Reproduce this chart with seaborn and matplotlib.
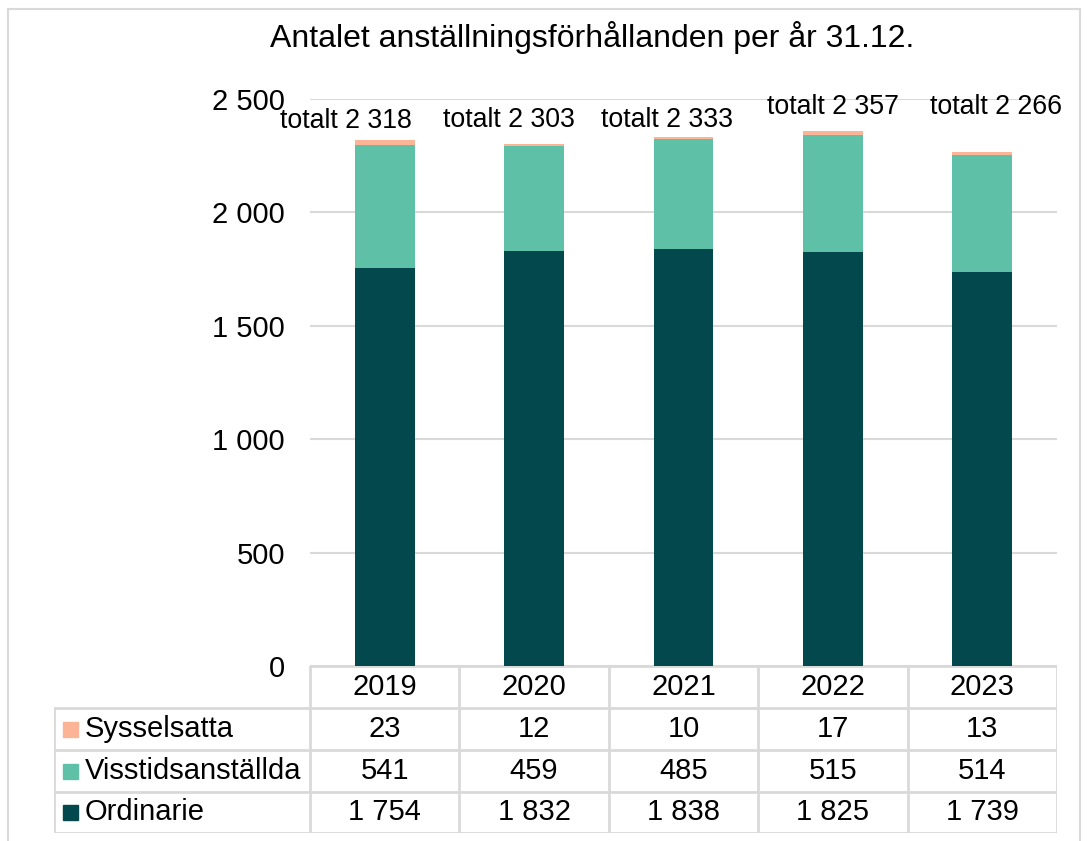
import numpy as np
import pandas as pd
import seaborn as sns
import matplotlib.pyplot as plt
from matplotlib.ticker import FuncFormatter
from matplotlib.lines import Line2D
from matplotlib.patches import Rectangle

# Data
years = ['2019', '2020', '2021', '2022', '2023']
ordinarie = [1754, 1832, 1838, 1825, 1739]
visstid = [541, 459, 485, 515, 514]
sysselsatta = [23, 12, 10, 17, 13]
totals = [2318, 2303, 2333, 2357, 2266]

series_names = ['Sysselsatta', 'Visstidsanställda', 'Ordinarie']
colors = {'Ordinarie': '#03484C', 'Visstidsanställda': '#5FC0A8', 'Sysselsatta': '#FBB596'}

# positions of the "totalt" texts (they were moved by hand in the original)
label_dx = [-0.26, -0.17, -0.11, 0.0, 0.09]
label_y = [2403, 2407, 2407, 2465, 2465]


def fmt(v):
    return f'{v:,.0f}'.replace(',', ' ')


df = pd.DataFrame({'year': years, 'Ordinarie': ordinarie,
                   'Visstidsanställda': visstid, 'Sysselsatta': sysselsatta})
df['top'] = df['Ordinarie'] + df['Visstidsanställda'] + df['Sysselsatta']
df['mid'] = df['Ordinarie'] + df['Visstidsanställda']

sns.set_theme(style='white')
plt.rcParams['font.family'] = ['Liberation Sans', 'DejaVu Sans']
plt.rcParams['text.color'] = 'black'
plt.rcParams['ytick.color'] = 'black'

W, H = 1087, 841
fig = plt.figure(figsize=(W / 100, H / 100), dpi=100)
ax = fig.add_axes([310 / W, (H - 666) / H, 747 / W, 567 / H])

# Stacked bars drawn as overlapping cumulative layers
for col, name in [('top', 'Sysselsatta'), ('mid', 'Visstidsanställda'), ('Ordinarie', 'Ordinarie')]:
    sns.barplot(data=df, x='year', y=col, color=colors[name], width=0.4,
                saturation=1, linewidth=0, ax=ax)

ax.set_ylim(0, 2500)
ax.set_xlim(-0.5, 4.5)
ax.set_yticks(np.arange(0, 2501, 500))
ax.yaxis.set_major_formatter(FuncFormatter(lambda v, p: fmt(v)))
ax.tick_params(axis='y', labelsize=21, pad=18, length=0, labelcolor='black')
ax.set_xticks([])
ax.set_xlabel('')
ax.set_ylabel('')
ax.grid(axis='y', color='#D9D9D9', linewidth=1.5)
ax.set_axisbelow(True)
for s in ax.spines.values():
    s.set_visible(False)

for i, t in enumerate(totals):
    ax.text(i + label_dx[i], label_y[i], 'totalt ' + fmt(t), ha='center', va='center',
            fontsize=19.3, color='black')

fig.text(592 / W, 1 - 37 / H, 'Antalet anställningsförhållanden per år 31.12.',
         ha='center', va='center', fontsize=23, color='black')

# Data table below the chart
tab = fig.add_axes([54 / W, (H - 833) / H, 1003 / W, 167 / H])
tab.set_xlim(0, 1003)
tab.set_ylim(167, 0)
tab.axis('off')
line_kw = dict(color='#D9D9D9', linewidth=2)
col_x = [256 + i * 149.4 for i in range(6)]
row_y = [0, 42, 84, 126, 167]
for x in col_x:
    tab.plot([x, x], [0, 167], **line_kw)
tab.plot([0, 0], [42, 167], **line_kw)
tab.plot([256, 1003], [0, 0], **line_kw)
for y in row_y[1:]:
    tab.plot([0, 1003], [y, y], **line_kw)

for i, yr in enumerate(years):
    tab.text((col_x[i] + col_x[i + 1]) / 2, 21, yr, ha='center', va='center',
             fontsize=21, color='black')
values = {'Sysselsatta': sysselsatta, 'Visstidsanställda': visstid, 'Ordinarie': ordinarie}
for r, name in enumerate(series_names):
    yc = (row_y[r + 1] + row_y[r + 2]) / 2
    tab.add_patch(Rectangle((9, yc - 7.5), 15, 15, color=colors[name]))
    tab.text(31, yc, name, ha='left', va='center', fontsize=21, color='black')
    for i, v in enumerate(values[name]):
        tab.text((col_x[i] + col_x[i + 1]) / 2, yc, fmt(v), ha='center', va='center',
                 fontsize=21, color='black')

# outer chart border
for xs, ys in [([8, 8], [841, 9]), ([8, 1080], [9, 9]), ([1080, 1080], [9, 841])]:
    fig.add_artist(Line2D([x / W for x in xs], [1 - y / H for y in ys],
                          color='#D9D9D9', linewidth=1.5))

fig.savefig('out.png', dpi=100)
